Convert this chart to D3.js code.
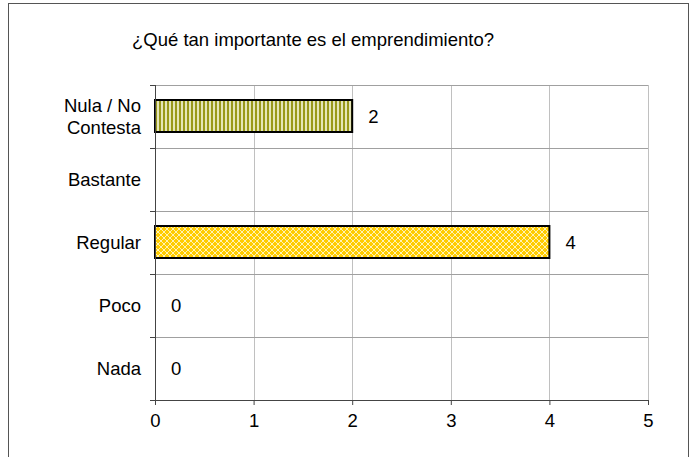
<!DOCTYPE html>
<html>
<head>
<meta charset="utf-8">
<script src="https://cdn.jsdelivr.net/npm/d3@7"></script>
<style>
  body { margin: 0; background: #fff; }
  text { font-family: "Liberation Sans", Arial, sans-serif; fill: #000; }
</style>
</head>
<body>
<div id="chart"></div>
<script>
(function(d3) {
  'use strict';

  var title = '¿Qué tan importante es el emprendimiento?';
  var categories = ['Nula / No Contesta', 'Bastante', 'Regular', 'Poco', 'Nada'];
  var values = [2, null, 4, 0, 0];
  var barStyles = ['stripes', null, 'checks', null, null];
  var xTicks = [0, 1, 2, 3, 4, 5];

  var width = 695, height = 457;
  var margin = { top: 85, left: 155, right: 47, bottom: 57 };
  var plotW = width - margin.left - margin.right;
  var plotH = height - margin.top - margin.bottom;
  var fontSize = '18.5px';

  var svg = d3.select('#chart').append('svg')
    .attr('width', width)
    .attr('height', height);

  var defs = svg.append('defs');

  var stripes = defs.append('pattern')
    .attr('id', 'stripes')
    .attr('patternUnits', 'userSpaceOnUse')
    .attr('width', 4).attr('height', 4);
  stripes.append('rect').attr('width', 4).attr('height', 4).attr('fill', '#e6e6b8');
  stripes.append('rect').attr('width', 2).attr('height', 4).attr('fill', '#99991a');

  var checks = defs.append('pattern')
    .attr('id', 'checks')
    .attr('patternUnits', 'userSpaceOnUse')
    .attr('width', 6).attr('height', 6);
  checks.append('rect').attr('width', 6).attr('height', 6).attr('fill', '#ffcc00');
  checks.append('path').attr('d', 'M0,0L6,6M6,0L0,6')
    .attr('stroke', '#fff2b3').attr('stroke-width', 1);

  // outer frame
  svg.append('rect')
    .attr('x', 8.5).attr('y', 3.5)
    .attr('width', 680).attr('height', 480)
    .attr('fill', 'none').attr('stroke', '#555').attr('stroke-width', 1);

  svg.append('text')
    .attr('x', 313).attr('y', 46)
    .attr('text-anchor', 'middle')
    .style('font-size', fontSize)
    .text(title);

  var g = svg.append('g')
    .attr('transform', 'translate(' + margin.left + ',' + margin.top + ')');

  var x = d3.scaleLinear().domain([0, 5]).range([0, plotW]);
  var y = d3.scaleBand().domain(categories).range([0, plotH]).paddingInner(0.49).paddingOuter(0.245);
  var yb = d3.scaleBand().domain(categories).range([0, plotH]);

  // gridlines
  g.selectAll('.vgrid').data(xTicks.slice(1)).enter().append('line')
    .attr('x1', function(d) { return Math.round(x(d)) + 0.5; })
    .attr('x2', function(d) { return Math.round(x(d)) + 0.5; })
    .attr('y1', 0).attr('y2', plotH)
    .attr('stroke', '#c0c0c0');

  var bounds = categories.map(function(c) { return yb(c); });
  g.selectAll('.hgrid').data(bounds).enter().append('line')
    .attr('x1', 0).attr('x2', plotW)
    .attr('y1', function(d) { return Math.round(d) + 0.5; })
    .attr('y2', function(d) { return Math.round(d) + 0.5; })
    .attr('stroke', '#a0a0a0');

  // bars
  var data = categories.map(function(c, i) { return { cat: c, value: values[i], style: barStyles[i] }; });

  g.selectAll('.bar').data(data.filter(function(d) { return d.value > 0; }))
    .enter().append('rect')
    .attr('x', x(0))
    .attr('y', function(d) { return Math.round(y(d.cat)); })
    .attr('width', function(d) { return x(d.value) - x(0); })
    .attr('height', Math.round(y.bandwidth()))
    .attr('fill', function(d) { return 'url(#' + d.style + ')'; })
    .attr('stroke', '#000').attr('stroke-width', 2);

  g.selectAll('.val').data(data.filter(function(d) { return d.value !== null; }))
    .enter().append('text')
    .attr('x', function(d) { return x(d.value) + 16; })
    .attr('y', function(d) { return yb(d.cat) + yb.bandwidth() / 2 + 6; })
    .style('font-size', fontSize)
    .text(function(d) { return d.value; });

  // axes
  var xAxis = g.append('g')
    .attr('transform', 'translate(0,' + plotH + ')')
    .call(d3.axisBottom(x).tickValues(xTicks).tickFormat(d3.format('d'))
      .tickSize(5).tickPadding(9).tickSizeOuter(0));
  xAxis.select('.domain').attr('stroke', '#444');
  xAxis.selectAll('.tick line').attr('stroke', '#444');
  xAxis.selectAll('.tick text').style('font-size', fontSize)
    .style('font-family', '"Liberation Sans", Arial, sans-serif').attr('fill', '#000');

  g.append('line')
    .attr('x1', 0.5).attr('x2', 0.5).attr('y1', 0).attr('y2', plotH)
    .attr('stroke', '#444');
  g.selectAll('.ytick').data(bounds.concat([plotH])).enter().append('line')
    .attr('x1', -5).attr('x2', 0)
    .attr('y1', function(d) { return Math.round(d) + 0.5; })
    .attr('y2', function(d) { return Math.round(d) + 0.5; })
    .attr('stroke', '#444');

  // category labels
  g.selectAll('.cat').data(categories).enter().append('text')
    .attr('text-anchor', 'end')
    .attr('x', -14)
    .attr('y', function(d) { return yb(d) + yb.bandwidth() / 2 + 6; })
    .style('font-size', fontSize)
    .each(function(d) {
      var t = d3.select(this);
      if (d === 'Nula / No Contesta') {
        t.append('tspan').attr('x', -14).attr('dy', '-0.55em').text('Nula / No');
        t.append('tspan').attr('x', -14).attr('dy', '1.15em').text('Contesta');
      } else {
        t.text(d);
      }
    });

})(window.d3);
</script>
</body>
</html>
